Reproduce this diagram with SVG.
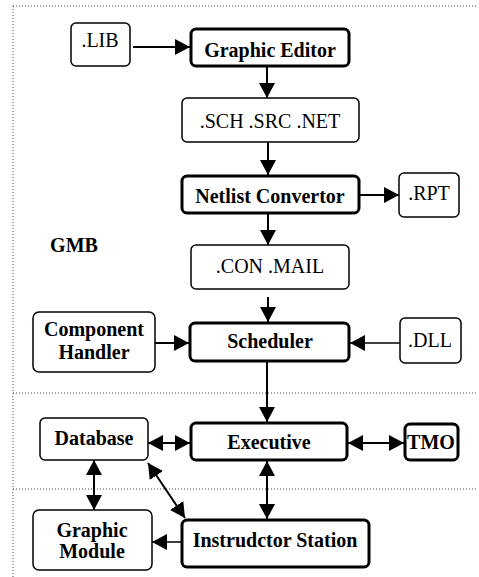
<svg xmlns="http://www.w3.org/2000/svg" width="479" height="577" viewBox="0 0 479 577">
  <defs>
    <style>
      .frame { fill: none; stroke: #444; stroke-width: 1; stroke-dasharray: 1 2; }
      .thin { fill: #fff; stroke: #000; stroke-width: 1.5; }
      .bold { fill: #fff; stroke: #000; stroke-width: 3; }
      .t { font-family: 'Liberation Serif', 'DejaVu Serif', serif; font-size: 20px; fill: #000; text-anchor: middle; }
      .b { font-weight: bold; }
      .edge { fill: none; stroke: #000; stroke-width: 2; }
      .edge.light { stroke-width: 1.5; }
    </style>
    <marker id="head" markerUnits="userSpaceOnUse" markerWidth="15" markerHeight="16" refX="15" refY="8" orient="auto-start-reverse">
      <path d="M0,0 L15,8 L0,16 Z" fill="#000"/>
    </marker>
  </defs>

  <rect width="479" height="577" fill="#fff"/>

  <!-- dotted frame and section dividers -->
  <g id="frame">
    <path class="frame" d="M13,6 H478"/>
    <path class="frame" d="M13,6 V577"/>
    <path class="frame" d="M13,393 H478"/>
    <path class="frame" d="M13,489 H478"/>
  </g>

  <g id="connectors">
    <path class="edge" d="M133,47 H190" marker-end="url(#head)"/>
    <path class="edge" d="M267,67 V98" marker-end="url(#head)"/>
    <path class="edge" d="M268,142 V175" marker-end="url(#head)"/>
    <path class="edge" d="M360,195 H399" marker-end="url(#head)"/>
    <path class="edge" d="M268,214 V245" marker-end="url(#head)"/>
    <path class="edge" d="M268,297 V322" marker-end="url(#head)"/>
    <path class="edge" d="M155,343 H189" marker-end="url(#head)"/>
    <path class="edge light" d="M400,343 H350" marker-end="url(#head)"/>
    <path class="edge" d="M267,362 V422" marker-end="url(#head)"/>
    <path class="edge" d="M148,443 H190" marker-start="url(#head)" marker-end="url(#head)"/>
    <path class="edge" d="M348,443 H404" marker-start="url(#head)" marker-end="url(#head)"/>
    <path class="edge" d="M267,461 V519" marker-start="url(#head)" marker-end="url(#head)"/>
    <path class="edge" d="M94,460 V510" marker-start="url(#head)" marker-end="url(#head)"/>
    <path class="edge" d="M148,463 L185,518" marker-start="url(#head)" marker-end="url(#head)"/>
    <path class="edge light" d="M181,542 H152" marker-end="url(#head)"/>
  </g>

  <g id="lib">
    <rect class="thin" x="71" y="23" width="59" height="43" rx="5"/>
    <text class="t" x="100" y="47">.LIB</text>
  </g>
  <g id="graphic-editor">
    <rect class="bold" x="191" y="29" width="158" height="37" rx="5"/>
    <text class="t b" x="270" y="57">Graphic Editor</text>
  </g>
  <g id="sch-src-net">
    <rect class="thin" x="182" y="98" width="177" height="44" rx="5"/>
    <text class="t" x="270" y="128">.SCH .SRC .NET</text>
  </g>
  <g id="netlist-convertor">
    <rect class="bold" x="182" y="176" width="177" height="37" rx="5"/>
    <text class="t b" x="270" y="203">Netlist Convertor</text>
  </g>
  <g id="rpt">
    <rect class="thin" x="399" y="173" width="60" height="44" rx="5"/>
    <text class="t" x="429" y="200">.RPT</text>
  </g>
  <g id="gmb">
    <text class="t b" x="74" y="252">GMB</text>
  </g>
  <g id="con-mail">
    <rect class="thin" x="191" y="245" width="158" height="44" rx="5"/>
    <text class="t" x="270" y="273">.CON .MAIL</text>
  </g>
  <g id="component-handler">
    <rect class="thin" x="33" y="312" width="122" height="60" rx="6"/>
    <text class="t b" x="94" y="336">Component</text>
    <text class="t b" x="94" y="359">Handler</text>
  </g>
  <g id="scheduler">
    <rect class="bold" x="190" y="323" width="159" height="38" rx="5"/>
    <text class="t b" x="270" y="348">Scheduler</text>
  </g>
  <g id="dll">
    <rect class="thin" x="400" y="318" width="61" height="45" rx="5"/>
    <text class="t" x="430" y="347">.DLL</text>
  </g>
  <g id="database">
    <rect class="thin" x="40" y="418" width="108" height="42" rx="5"/>
    <text class="t b" x="94" y="445">Database</text>
  </g>
  <g id="executive">
    <rect class="bold" x="191" y="423" width="156" height="37" rx="5"/>
    <text class="t b" x="269" y="449">Executive</text>
  </g>
  <g id="tmo">
    <rect class="bold" x="405" y="424" width="53" height="36" rx="5"/>
    <text class="t b" x="431" y="449">TMO</text>
  </g>
  <g id="graphic-module">
    <rect class="thin" x="33" y="510" width="119" height="60" rx="6"/>
    <text class="t b" x="92" y="537">Graphic</text>
    <text class="t b" x="92" y="558">Module</text>
  </g>
  <g id="instructor-station">
    <rect class="bold" x="182" y="520" width="187" height="47" rx="5"/>
    <text class="t b" x="275" y="547">Instrudctor Station</text>
  </g>
</svg>
